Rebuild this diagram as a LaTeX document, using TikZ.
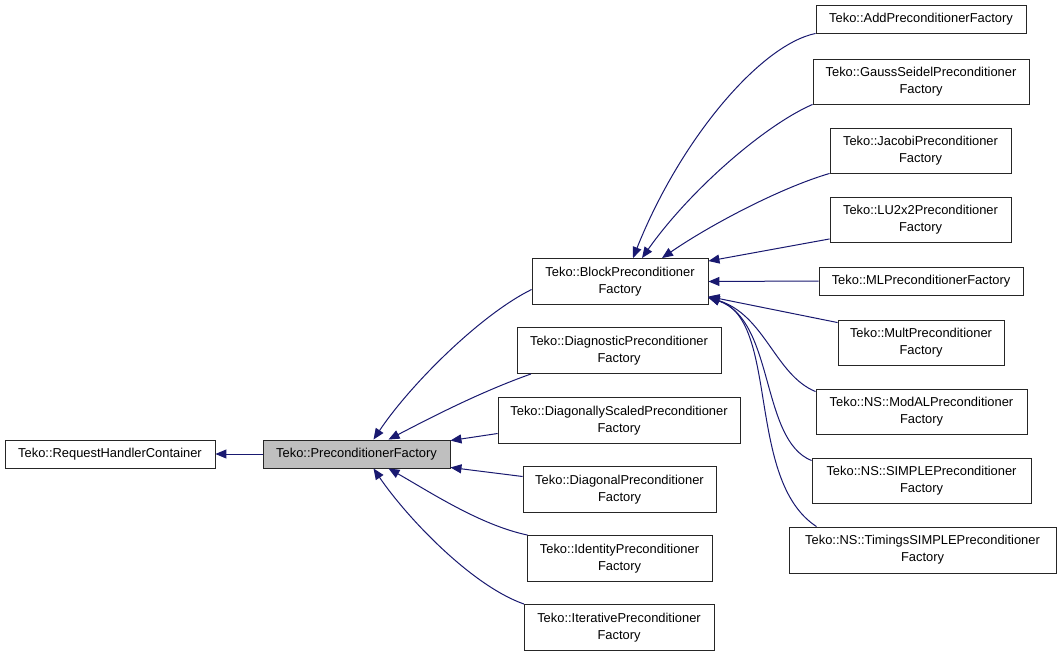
\documentclass[tikz,border=0pt]{standalone}
\usepackage{fontspec}
\setmainfont{Liberation Sans}
\usepackage{tikz}
\usetikzlibrary{positioning, arrows.meta}

\definecolor{edgeblue}{HTML}{191970}
\definecolor{curgray}{HTML}{BFBFBF}

\begin{document}
\begin{tikzpicture}[x=1pt,y=-1pt,
  cls/.style={draw=black!85,line width=0.9pt,fill=white,inner sep=0pt,align=center,
    font=\fontsize{12.9}{17}\selectfont},
  inh/.style={draw=edgeblue,line width=1pt,-{Triangle[length=11pt,width=9pt]}}]
\useasboundingbox[fill=white] (0,0) rectangle (1059,656);

% base classes
\node[cls,minimum width=210pt,minimum height=28pt] (rhc) at (110,454) {Teko::RequestHandlerContainer};
\node[cls,fill=curgray,minimum width=187pt,minimum height=28pt] (pf) at (356.5,454) {Teko::PreconditionerFactory};

% direct children
\node[cls,minimum width=176pt,minimum height=46pt] (blk) at (620,281.5) {Teko::BlockPreconditioner\\Factory};
\node[cls,minimum width=204pt,minimum height=46pt] (diag) at (619,350.5) {Teko::DiagnosticPreconditioner\\Factory};
\node[cls,minimum width=242pt,minimum height=46pt] (dsc) at (619,420.5) {Teko::DiagonallyScaledPreconditioner\\Factory};
\node[cls,minimum width=193pt,minimum height=46pt] (dgl) at (619.5,489.5) {Teko::DiagonalPreconditioner\\Factory};
\node[cls,minimum width=185pt,minimum height=46pt] (idn) at (619.5,558.5) {Teko::IdentityPreconditioner\\Factory};
\node[cls,minimum width=190pt,minimum height=46pt] (itr) at (619,627.5) {Teko::IterativePreconditioner\\Factory};

% block children
\node[cls,minimum width=210pt,minimum height=28pt] (add) at (921,19) {Teko::AddPreconditionerFactory};
\node[cls,minimum width=216pt,minimum height=45pt] (gs) at (921,81.5) {Teko::GaussSeidelPreconditioner\\Factory};
\node[cls,minimum width=181pt,minimum height=45pt] (jac) at (920.5,150.5) {Teko::JacobiPreconditioner\\Factory};
\node[cls,minimum width=181pt,minimum height=45pt] (lu) at (920.5,220) {Teko::LU2x2Preconditioner\\Factory};
\node[cls,minimum width=204pt,minimum height=28pt] (ml) at (921,281) {Teko::MLPreconditionerFactory};
\node[cls,minimum width=166pt,minimum height=45pt] (mult) at (921,342.5) {Teko::MultPreconditioner\\Factory};
\node[cls,minimum width=211pt,minimum height=45pt] (modal) at (921.5,411.5) {Teko::NS::ModALPreconditioner\\Factory};
\node[cls,minimum width=219pt,minimum height=45pt] (simple) at (921.5,480.5) {Teko::NS::SIMPLEPreconditioner\\Factory};
\node[cls,minimum width=267pt,minimum height=46pt] (tim) at (922.5,550) {Teko::NS::TimingsSIMPLEPreconditioner\\Factory};

% inheritance
\draw[inh] (pf.west) -- (rhc.east);

\draw[inh] ([yshift=-8pt]blk.west) .. controls (480,315) and (410,385) .. ([xshift=17pt]pf.north);
\draw[inh] ([xshift=-88pt]diag.south) .. controls (480,392) and (430,418) .. ([xshift=32pt]pf.north);
\draw[inh] ([yshift=-13pt]dsc.west) -- ([yshift=-1pt]pf.north east);
\draw[inh] ([yshift=13pt]dgl.west) -- ([yshift=1pt]pf.south east);
\draw[inh] ([xshift=-92pt]idn.north) .. controls (480,525) and (430,492) .. ([xshift=32pt]pf.south);
\draw[inh] ([xshift=-95pt]itr.north) .. controls (470,585) and (405,515) .. ([xshift=17pt]pf.south);

\draw[inh] (add.south west) .. controls (760,45) and (680,140) .. ([xshift=13pt]blk.north);
\draw[inh] (gs.south west) .. controls (765,125) and (690,190) .. ([xshift=22pt]blk.north);
\draw[inh] (jac.south west) .. controls (780,188) and (710,225) .. ([xshift=42pt]blk.north);
\draw[inh] ([yshift=4pt]lu.south west) -- ([yshift=-3pt]blk.north east);
\draw[inh] (ml.west) -- (blk.east);
\draw[inh] ([yshift=-3pt]mult.north west) -- ([yshift=-15pt]blk.east);
\draw[inh] ([yshift=-3pt]modal.north west) .. controls (775,375) and (765,315) .. ([yshift=-16pt]blk.east);
\draw[inh] ([yshift=-3pt]simple.north west) .. controls (760,440) and (775,320) .. ([yshift=-16pt]blk.east);
\draw[inh] ([xshift=-106pt]tim.north) .. controls (745,480) and (780,320) .. ([yshift=-16pt]blk.east);
\end{tikzpicture}
\end{document}
